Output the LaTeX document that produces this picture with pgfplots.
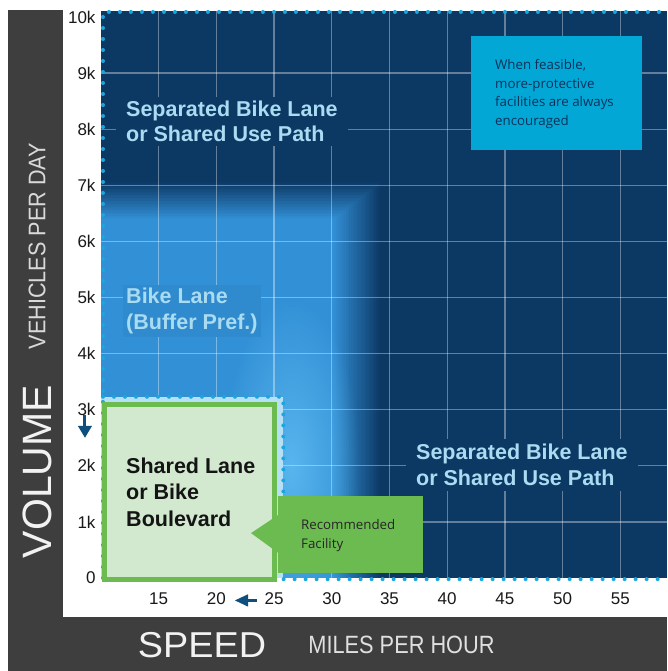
\documentclass[border=0pt]{standalone}
\usepackage{fontspec}
\setmainfont{Liberation Sans}
\newfontfamily\calloutfont{Open Sans}
\usepackage{pgfplots}
\pgfplotsset{compat=1.18}
\usetikzlibrary{fadings}
\definecolor{navy}{HTML}{0C3864}
\definecolor{bikeblue}{HTML}{3290D6}
\definecolor{glowblue}{HTML}{66C2F6}
\definecolor{halo}{HTML}{B8E0F4}
\definecolor{dotc}{HTML}{1AA7DE}
\definecolor{greenborder}{HTML}{6CBB50}
\definecolor{greenfill}{HTML}{D2E9CF}
\definecolor{callblue}{HTML}{03A7D6}
\definecolor{textblue}{HTML}{A9DBF1}
\definecolor{framegrey}{HTML}{3E3E3F}
\definecolor{arrowc}{HTML}{0E4F7E}
\tikzfading[name=glowfade, inner color=transparent!0, outer color=transparent!100]
\begin{document}
\begin{tikzpicture}[x=1pt,y=1pt]
\path[use as bounding box, fill=white] (0,0) rectangle (667,671);
\fill[framegrey] (8,0) rectangle (63,661);
\fill[framegrey] (8,0) rectangle (667,54);
\begin{axis}[at={(101pt,93pt)}, anchor=south west, scale only axis,
  width=566pt, height=567pt,
  xmin=10, xmax=59.05, ymin=0, ymax=10.107, clip=false,
  axis line style={draw=none}, major tick length=0pt,
  xtick={15,20,25,30,35,40,45,50,55},
  ytick={0,1,2,3,4,5,6,7,8,9,10},
  yticklabels={0,1k,2k,3k,4k,5k,6k,7k,8k,9k,10k},
  /pgf/number format/assume math mode=true,
  ticklabel style={font=\fontsize{17}{20}\selectfont, text=black!90},
  xticklabel style={yshift=-11pt},
  yticklabel style={xshift=-2pt},
  axis background/.style={fill=navy}]
% bike lane region with soft edges (opaque layers, outermost first)
\fill[bikeblue!4!navy]  (axis cs:10,0) rectangle (axis cs:34.20,7.050);
\fill[bikeblue!8!navy]  (axis cs:10,0) rectangle (axis cs:34.03,7.023);
\fill[bikeblue!12!navy] (axis cs:10,0) rectangle (axis cs:33.87,6.996);
\fill[bikeblue!16!navy] (axis cs:10,0) rectangle (axis cs:33.70,6.969);
\fill[bikeblue!20!navy] (axis cs:10,0) rectangle (axis cs:33.53,6.942);
\fill[bikeblue!24!navy] (axis cs:10,0) rectangle (axis cs:33.37,6.915);
\fill[bikeblue!28!navy] (axis cs:10,0) rectangle (axis cs:33.20,6.888);
\fill[bikeblue!32!navy] (axis cs:10,0) rectangle (axis cs:33.03,6.860);
\fill[bikeblue!36!navy] (axis cs:10,0) rectangle (axis cs:32.87,6.833);
\fill[bikeblue!40!navy] (axis cs:10,0) rectangle (axis cs:32.70,6.806);
\fill[bikeblue!44!navy] (axis cs:10,0) rectangle (axis cs:32.53,6.779);
\fill[bikeblue!48!navy] (axis cs:10,0) rectangle (axis cs:32.37,6.752);
\fill[bikeblue!52!navy] (axis cs:10,0) rectangle (axis cs:32.20,6.725);
\fill[bikeblue!56!navy] (axis cs:10,0) rectangle (axis cs:32.03,6.698);
\fill[bikeblue!60!navy] (axis cs:10,0) rectangle (axis cs:31.87,6.671);
\fill[bikeblue!64!navy] (axis cs:10,0) rectangle (axis cs:31.70,6.644);
\fill[bikeblue!68!navy] (axis cs:10,0) rectangle (axis cs:31.53,6.617);
\fill[bikeblue!72!navy] (axis cs:10,0) rectangle (axis cs:31.37,6.590);
\fill[bikeblue!76!navy] (axis cs:10,0) rectangle (axis cs:31.20,6.563);
\fill[bikeblue!80!navy] (axis cs:10,0) rectangle (axis cs:31.03,6.535);
\fill[bikeblue!84!navy] (axis cs:10,0) rectangle (axis cs:30.87,6.508);
\fill[bikeblue!88!navy] (axis cs:10,0) rectangle (axis cs:30.70,6.481);
\fill[bikeblue!92!navy] (axis cs:10,0) rectangle (axis cs:30.53,6.454);
\fill[bikeblue!96!navy] (axis cs:10,0) rectangle (axis cs:30.37,6.427);
\fill[bikeblue] (axis cs:10,0) rectangle (axis cs:30.2,6.4);
% lighter glow around the shared lane box
\begin{scope}
\clip (axis cs:10,0) rectangle (axis cs:34.2,7.0);
\fill[glowblue, path fading=glowfade, fill opacity=0.75] (axis cs:20.5,-1.0) rectangle (axis cs:32.5,5.0);
\end{scope}
% grid
\pgfplotsinvokeforeach{15,20,25,30,35,40,45,50,55}{
  \draw[white, opacity=0.36, line width=1.3pt] (axis cs:#1,0) -- (axis cs:#1,10.107);}
\pgfplotsinvokeforeach{1,2,3,4,5,6,7,8,9}{
  \draw[white, opacity=0.36, line width=1.3pt] (axis cs:10,#1) -- (axis cs:59.05,#1);}
% halo
\fill[halo] (axis cs:10,0) rectangle (axis cs:25.8,3.23);
% dotted outlines
\draw[dotc, line width=4pt, line cap=round, dash pattern=on 0pt off 11pt]
  (axis cs:10.17,0) -- (axis cs:10.17,10.09) -- (axis cs:59.05,10.09);
\draw[dotc, line width=4pt, line cap=round, dash pattern=on 0pt off 11pt]
  (axis cs:10.17,3.23) -- (axis cs:25.8,3.23) -- (axis cs:25.8,-0.02) -- (axis cs:59.05,-0.02);
% shared lane box
\draw[greenborder, line width=5pt, fill=greenfill] (axis cs:10.28,-0.02) rectangle (axis cs:25.0,3.10);
\node[anchor=north west, inner sep=0pt, align=left, text=black!92,
  font=\bfseries\fontsize{21.5}{26.5}\selectfont] at (axis cs:12.17,2.15)
  {Shared Lane\\or Bike\\Boulevard};
% region labels
\node[anchor=north west, fill=navy, inner xsep=10pt, inner ysep=4pt, align=left, text=textblue,
  font=\bfseries\fontsize{21.5}{25}\selectfont] at (axis cs:11.3,8.57)
  {Separated Bike Lane\\or Shared Use Path};
\node[anchor=north west, fill=navy, inner xsep=10pt, inner ysep=5pt, align=left, text=textblue,
  font=\bfseries\fontsize{21.5}{26}\selectfont] at (axis cs:36.43,2.48)
  {Separated Bike Lane\\or Shared Use Path};
\node[anchor=north west, fill=bikeblue!93!navy, inner xsep=3pt, inner ysep=3pt, align=left, text=textblue,
  font=\bfseries\fontsize{21.5}{26}\selectfont] at (axis cs:11.91,5.22)
  {Bike Lane\\(Buffer Pref.)};
% blue callout
\fill[callblue] (axis cs:42.06,7.63) rectangle (axis cs:56.88,9.66);
\node[anchor=north west, inner sep=0pt, align=left, text=navy!90!black,
  font=\calloutfont\fontsize{13.3}{18.7}\selectfont] at (axis cs:44.14,9.25)
  {When feasible,\\more-protective\\facilities are always\\encouraged};
% green callout
\fill[greenborder] (axis cs:25.34,1.46) -- (axis cs:37.9,1.46) -- (axis cs:37.9,0.09)
  -- (axis cs:25.34,0.09) -- (axis cs:25.34,0.45) -- (axis cs:23.0,0.80)
  -- (axis cs:25.34,1.12) -- cycle;
\node[anchor=north west, inner sep=0pt, align=left, text=black!85,
  font=\calloutfont\fontsize{13.3}{19}\selectfont] at (axis cs:27.33,1.05)
  {Recommended\\Facility};
% arrows
\fill[arrowc] (axis cs:8.48,2.71) rectangle (axis cs:8.74,2.905);
\fill[arrowc] (axis cs:8.0,2.71) -- (axis cs:9.22,2.71) -- (axis cs:8.61,2.50) -- cycle;
\fill[arrowc] (axis cs:22.74,-0.43) rectangle (axis cs:23.5,-0.37);
\fill[arrowc] (axis cs:21.61,-0.40) -- (axis cs:22.74,-0.29) -- (axis cs:22.74,-0.51) -- cycle;
\end{axis}
% outer axis titles
\node[rotate=90, text=white!95!black, font=\fontsize{41}{41}\selectfont, inner sep=0pt] at (37,199.5) {VOLUME};
\node[rotate=90, text=white!85!black, font=\fontsize{24}{24}\selectfont, inner sep=0pt] at (37,425) {\scalebox{0.9}[1]{VEHICLES PER DAY}};
\node[text=white!95!black, font=\fontsize{36}{36}\selectfont, inner sep=0pt] at (202,25.5) {\scalebox{1.05}[1]{SPEED}};
\node[text=white!88!black, font=\fontsize{25}{25}\selectfont, inner sep=0pt] at (401.5,26) {\scalebox{0.87}[1]{MILES PER HOUR}};
\end{tikzpicture}
\end{document}
